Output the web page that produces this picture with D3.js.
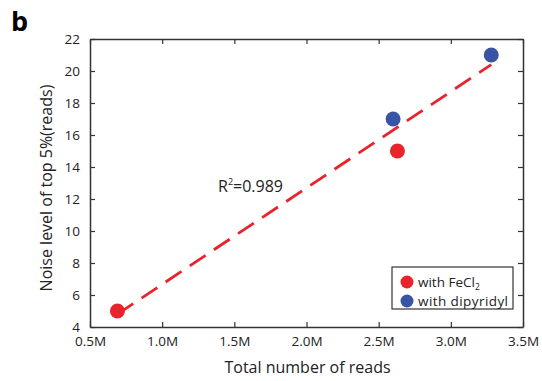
<!DOCTYPE html>
<html lang="en">
<head>
    <meta charset="UTF-8">
    <title>Noise level vs total reads</title>
    <script src="https://d3js.org/d3.v7.min.js"></script>
    <style>
        body { margin: 0; background: #fff; }
        svg text { font-family: "Open Sans", "DejaVu Sans", sans-serif; fill: #222; }
    </style>
</head>
<body>
    <svg id="chart" width="542" height="381"></svg>
    <script>
        // data (reads in millions)
        var fecl2Reads = [0.69, 2.63];
        var fecl2Noise = [5, 15];
        var dipyReads = [2.6, 3.28];
        var dipyNoise = [17, 21];
        var fitReads = [0.69, 3.28];
        var fitNoise = [4.8, 20.4];
        var xTicks = [0.5, 1.0, 1.5, 2.0, 2.5, 3.0, 3.5];
        var yTicks = [4, 6, 8, 10, 12, 14, 16, 18, 20, 22];

        var red = "#e9232b";
        var blue = "#3a54a5";

        var svg = d3.select("#chart");
        var margin = { top: 39, right: 19, bottom: 54, left: 90 };
        var width = 542 - margin.left - margin.right;
        var height = 381 - margin.top - margin.bottom;

        var x = d3.scaleLinear().domain([0.5, 3.5]).range([0, width]);
        var y = d3.scaleLinear().domain([4, 22]).range([height, 0]);

        svg.append("text")
            .attr("x", 11).attr("y", 31)
            .attr("font-size", 27).attr("font-weight", "bold")
            .style("fill", "#000")
            .text("b");

        var g = svg.append("g")
            .attr("transform", "translate(" + margin.left + "," + margin.top + ")");

        var fmt = function(d) { return d.toFixed(1) + "M"; };

        // bottom and left axes with inward ticks
        var xAxis = g.append("g")
            .attr("transform", "translate(0," + height + ")")
            .call(d3.axisBottom(x).tickValues(xTicks).tickFormat(fmt).tickSizeInner(-5).tickSizeOuter(0).tickPadding(9));
        var yAxis = g.append("g")
            .call(d3.axisLeft(y).tickValues(yTicks).tickSizeInner(-5).tickSizeOuter(0).tickPadding(10));
        // mirrored top and right
        var xTop = g.append("g")
            .call(d3.axisTop(x).tickValues(xTicks).tickFormat("").tickSizeInner(-5).tickSizeOuter(0));
        var yRight = g.append("g")
            .attr("transform", "translate(" + width + ",0)")
            .call(d3.axisRight(y).tickValues(yTicks).tickFormat("").tickSizeInner(-5).tickSizeOuter(0));

        [xAxis, yAxis, xTop, yRight].forEach(function(a) {
            a.select(".domain").attr("stroke", "#333").attr("stroke-width", 1.5);
            a.selectAll(".tick line").attr("stroke", "#333").attr("stroke-width", 1.2);
            a.selectAll("text").attr("font-size", 13.5).style("fill", "#222")
                .attr("font-family", "'Open Sans', sans-serif");
        });

        // regression line
        var line = d3.line()
            .x(function(d) { return x(d[0]); })
            .y(function(d) { return y(d[1]); });
        g.append("path")
            .datum(d3.zip(fitReads, fitNoise))
            .attr("fill", "none")
            .attr("stroke", red)
            .attr("stroke-width", 2.8)
            .attr("stroke-dasharray", "19,10")
            .attr("d", line);

        g.selectAll(".fecl2")
            .data(d3.zip(fecl2Reads, fecl2Noise))
            .enter().append("circle")
            .attr("cx", function(d) { return x(d[0]); })
            .attr("cy", function(d) { return y(d[1]); })
            .attr("r", 7.5)
            .attr("fill", red);

        g.selectAll(".dipy")
            .data(d3.zip(dipyReads, dipyNoise))
            .enter().append("circle")
            .attr("cx", function(d) { return x(d[0]); })
            .attr("cy", function(d) { return y(d[1]); })
            .attr("r", 7.5)
            .attr("fill", blue);

        // R^2 annotation
        var r2 = g.append("text")
            .attr("x", 218 - margin.left).attr("y", 192 - margin.top)
            .attr("font-size", 16);
        r2.append("tspan").text("R");
        r2.append("tspan").attr("font-size", 9).attr("dy", -7).text("2");
        r2.append("tspan").attr("dy", 7).text("=0.989");

        // legend
        var leg = svg.append("g").attr("transform", "translate(392,267)");
        leg.append("rect")
            .attr("width", 121).attr("height", 42)
            .attr("fill", "#fff").attr("stroke", "#333").attr("stroke-width", 1.2);
        leg.append("circle").attr("cx", 15).attr("cy", 15).attr("r", 6.5).attr("fill", red);
        leg.append("circle").attr("cx", 15).attr("cy", 34).attr("r", 6.5).attr("fill", blue);
        var t1 = leg.append("text").attr("x", 26).attr("y", 20).attr("font-size", 13.5);
        t1.append("tspan").text("with FeCl");
        t1.append("tspan").attr("font-size", 8.5).attr("dy", 3).text("2");
        leg.append("text").attr("x", 26).attr("y", 39).attr("font-size", 13.5)
            .attr("textLength", 90).text("with dipyridyl");

        // axis titles
        svg.append("text")
            .attr("x", margin.left + width / 2 + 1).attr("y", 373)
            .attr("text-anchor", "middle").attr("font-size", 16)
            .text("Total number of reads");
        svg.append("text")
            .attr("transform", "translate(52,188) rotate(-90)")
            .attr("text-anchor", "middle").attr("font-size", 16)
            .text("Noise level of top 5%(reads)");
    </script>
</body>
</html>
